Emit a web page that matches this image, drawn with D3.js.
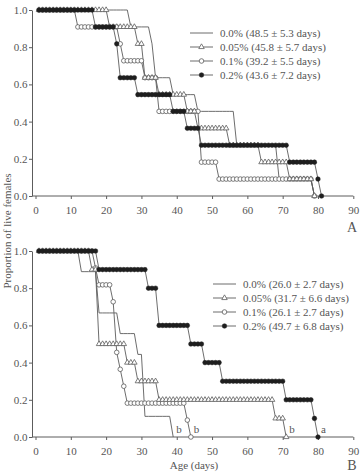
<!DOCTYPE html>
<html>
<head>
<meta charset="utf-8">
<script src="https://cdn.jsdelivr.net/npm/d3@7"></script>
<style>
  body { margin: 0; background: #fff; }
  text { font-family: "Liberation Serif", "Times New Roman", serif; fill: #555; }
</style>
</head>
<body>
<div id="chart"></div>
<script>
// series, in the order used by the legends
var series = ["0.0%", "0.05%", "0.1%", "0.2%"];
var xTicks = [0, 10, 20, 30, 40, 50, 60, 70, 80, 90];
var yTicks = [0, 0.2, 0.4, 0.6, 0.8, 1.0];
var legendA = ["0.0% (48.5 \u00b1 5.3 days)", "0.05% (45.8 \u00b1 5.7 days)",
               "0.1% (39.2 \u00b1 5.5 days)", "0.2% (43.6 \u00b1 7.2 days)"];
var legendB = ["0.0% (26.0 \u00b1 2.7 days)", "0.05% (31.7 \u00b1 6.6 days)",
               "0.1% (26.1 \u00b1 2.7 days)", "0.2% (49.7 \u00b1 6.8 days)"];
var endLabelsB = ["b", "b", "b", "a"];

// survival runs: [first day, last day, proportion alive]
var a00  = [[1,26,1],[27,32,0.909],[33,33,0.818],[34,38,0.636],[39,45,0.545],[46,56,0.455],[57,68,0.273],[69,78,0.091],[79,79,0]];
var a005 = [[1,20,1],[21,28,0.909],[29,30,0.818],[31,34,0.636],[35,42,0.545],[43,45,0.455],[46,54,0.364],[55,63,0.273],[64,71,0.182],[72,78,0.091],[79,79,0]];
var a01  = [[1,11,1],[12,23,0.909],[24,24,0.818],[25,30,0.727],[31,34,0.636],[35,46,0.455],[47,51,0.182],[52,78,0.091],[79,79,0]];
var a02  = [[1,16,1],[17,22,0.909],[23,23,0.818],[24,28,0.636],[29,38,0.545],[39,42,0.455],[43,46,0.364],[47,71,0.273],[72,79,0.182],[80,80,0.091],[81,81,0]];

var b00  = [[1,12,1],[13,17,0.889],[18,23,0.667],[24,28,0.556],[29,30,0.444],[31,38,0.111],[39,39,0]];
var b005 = [[1,15,1],[16,17,0.9],[18,25,0.5],[26,28,0.4],[29,34,0.3],[35,67,0.2],[68,70,0.1],[71,71,0]];
var b01  = [[1,16,1],[17,17,0.909],[18,21,0.818],[22,22,0.727],[23,23,0.455],[24,24,0.364],[25,25,0.273],[26,42,0.182],[43,43,0.091],[44,44,0]];
var b02  = [[1,17,1],[18,31,0.9],[32,34,0.8],[35,43,0.6],[44,47,0.5],[48,52,0.4],[53,70,0.3],[71,78,0.2],[79,79,0.1],[80,80,0]];

var svg = d3.select("#chart").append("svg")
    .attr("width", 361)
    .attr("height", 474);

var grey = "#5c5c5c";
var x = d3.scaleLinear().domain([0, 90]).range([35.5, 353.3]);
var tri = d3.symbol().type(d3.symbolTriangle).size(13);

// one mark per day inside each run
function toDays(runs) {
  var pts = [];
  runs.forEach(function(r) {
    for (var d = r[0]; d <= r[1]; d++) pts.push({day: d, p: r[2]});
  });
  return pts;
}

function drawMarker(sel, kind) {
  if (kind == 1) {
    sel.append("path").attr("d", tri)
      .attr("fill", "#fff").attr("stroke", grey).attr("stroke-width", 0.8);
  } else if (kind == 2) {
    sel.append("circle").attr("r", 2.3)
      .attr("fill", "#fff").attr("stroke", grey).attr("stroke-width", 0.8);
  } else if (kind == 3) {
    sel.append("circle").attr("r", 2.3)
      .attr("fill", "#1e1e1e").attr("stroke", "#1e1e1e").attr("stroke-width", 0.5);
  }
}

function panel(runs, yRange, legend, leg, tag, tagY) {
  var y = d3.scaleLinear().domain([0, 1]).range(yRange);
  var g = svg.append("g");

  // axes
  var xa = g.append("g")
      .attr("transform", "translate(0," + y(0) + ")")
      .call(d3.axisBottom(x).tickValues(xTicks).tickSize(3).tickSizeOuter(0).tickPadding(7.5));
  xa.select(".domain").remove();
  xa.append("line").attr("x1", 32).attr("x2", x(90)).attr("stroke", grey);
  var ya = g.append("g")
      .attr("transform", "translate(32,0)")
      .call(d3.axisLeft(y).tickValues(yTicks).tickSize(3).tickSizeOuter(0)
        .tickPadding(1.5).tickFormat(d3.format(".1f")));
  xa.attr("font-family", null);
  ya.attr("font-family", null);
  g.selectAll(".tick line").attr("stroke", grey);
  ya.select(".domain").attr("stroke", grey);
  g.selectAll(".tick text").attr("font-size", 11).attr("fill", grey);

  var line = d3.line()
      .x(function(d) { return x(d.day); })
      .y(function(d) { return y(d.p); });

  var data = runs.map(toDays);
  g.selectAll(".curve").data(data).enter().append("path")
      .attr("class", "curve")
      .attr("d", line)
      .attr("fill", "none")
      .attr("stroke", grey)
      .attr("stroke-width", 0.9);

  [2, 1, 3].forEach(function(k) {
    var m = g.selectAll(".m" + k).data(data[k]).enter().append("g")
        .attr("class", "m" + k)
        .attr("transform", function(d) { return "translate(" + x(d.day) + "," + y(d.p) + ")"; });
    drawMarker(m, k);
  });

  // legend
  var lg = g.selectAll(".leg").data(series).enter().append("g")
      .attr("class", "leg")
      .attr("transform", function(d, i) { return "translate(0," + (leg.y + i * 14) + ")"; });
  lg.append("line").attr("x1", leg.x).attr("x2", leg.x + 23)
      .attr("stroke", grey).attr("stroke-width", 0.9);
  lg.each(function(d, i) {
    var s = d3.select(this).append("g").attr("transform", "translate(" + (leg.x + 11.5) + ",0)");
    drawMarker(s, i);
  });
  lg.append("text").attr("x", leg.x + 30).attr("y", 3.8)
      .attr("font-size", 11)
      .text(function(d, i) { return legend[i]; });

  g.append("text").attr("x", 352).attr("y", tagY)
      .attr("text-anchor", "middle").attr("font-size", 14).text(tag);
  return {g: g, y: y, data: data};
}

panel([a00, a005, a01, a02], [196, 10], legendA, {x: 190, y: 33}, "A", 232);
var pB = panel([b00, b005, b01, b02], [437, 251], legendB, {x: 213, y: 284}, "B", 470);

// significance letters at the end of each curve in B
pB.g.selectAll(".sig").data(pB.data).enter().append("text")
    .attr("class", "sig")
    .attr("x", function(d) { return x(d[d.length - 1].day) + 3; })
    .attr("y", pB.y(0) - 4)
    .attr("font-size", 11)
    .text(function(d, i) { return endLabelsB[i]; });

svg.append("text")
    .attr("transform", "translate(10.5,231) rotate(-90)")
    .attr("text-anchor", "middle")
    .attr("font-size", 11)
    .text("Proportion of live females");

svg.append("text")
    .attr("x", 194).attr("y", 469)
    .attr("text-anchor", "middle")
    .attr("font-size", 11)
    .text("Age (days)");
</script>
</body>
</html>
